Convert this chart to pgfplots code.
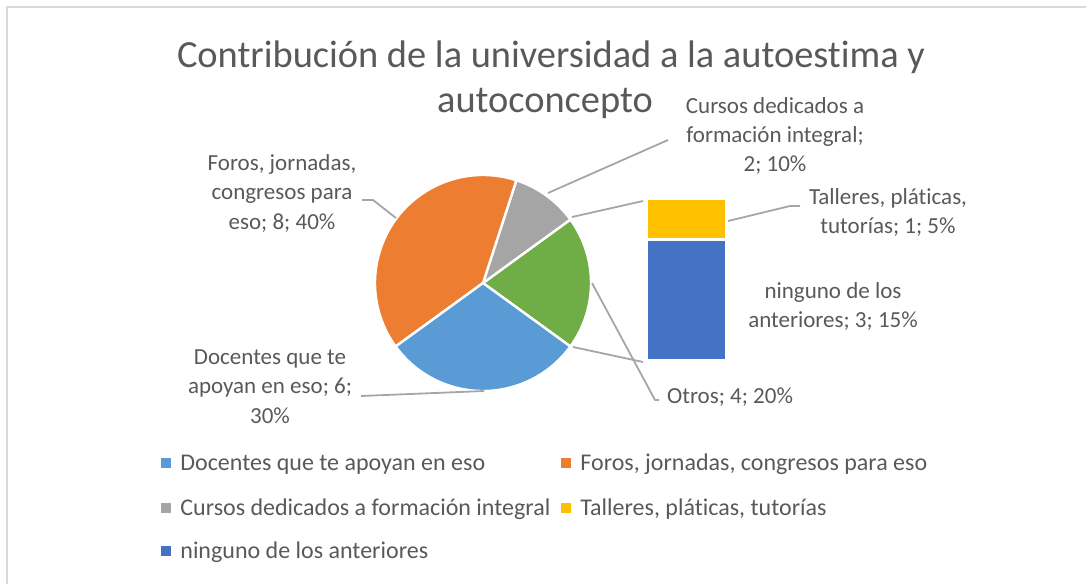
\documentclass[border=0pt]{standalone}
\usepackage{pgfplots}
\pgfplotsset{compat=1.18}
\usepackage{fontspec}
\setmainfont{Carlito}[Ligatures=NoCommon]
\definecolor{cDoc}{HTML}{5B9BD5}
\definecolor{cForos}{HTML}{ED7D31}
\definecolor{cCursos}{HTML}{A5A5A5}
\definecolor{cTalleres}{HTML}{FFC000}
\definecolor{cNinguno}{HTML}{4472C4}
\definecolor{cOtros}{HTML}{70AD47}
\definecolor{txt}{HTML}{595959}
\definecolor{leader}{HTML}{A6A6A6}
\definecolor{frame}{HTML}{D9D9D9}

% one pixel of the reference = 0.5pt
\newcommand{\lbl}[3]{\node[anchor=base, inner sep=0pt, text=txt, font=\fontsize{11.5}{14}\selectfont] at (axis cs:#1,#2) {#3};}
\newcommand{\leg}[4]{%
  \fill[#3] (axis cs:#1-19,#2-12) rectangle (axis cs:#1-9.5,#2-2.5);
  \node[anchor=base west, inner sep=0pt, text=txt, font=\fontsize{12}{14}\selectfont] at (axis cs:#1,#2) {#4};}

\begin{document}
\begin{tikzpicture}
% values
\pgfmathsetmacro\vDoc{6}
\pgfmathsetmacro\vForos{8}
\pgfmathsetmacro\vCursos{2}
\pgfmathsetmacro\vTalleres{1}
\pgfmathsetmacro\vNinguno{3}
\pgfmathsetmacro\vOtros{\vTalleres+\vNinguno}
\pgfmathsetmacro\deg{360/(\vDoc+\vForos+\vCursos+\vOtros)}
\pgfmathsetmacro\aA{-\vOtros*\deg/2}
\pgfmathsetmacro\aB{\aA+\vOtros*\deg}
\pgfmathsetmacro\aC{\aB+\vCursos*\deg}
\pgfmathsetmacro\aD{\aC+\vForos*\deg}
\pgfmathsetmacro\aE{\aD+\vDoc*\deg}

\begin{axis}[
    at={(0pt,0pt)}, anchor=south west,
    width=543pt, height=292pt, scale only axis,
    xmin=0, xmax=1086, ymin=0, ymax=584, y dir=reverse,
    hide axis, clip=false
]
    \addplot[draw=none] coordinates {(0,0)};
    \draw[frame, line width=1pt] (axis cs:7,584) -- (axis cs:7,7) -- (axis cs:1086,7);

    % pie
    \filldraw[fill=cOtros, draw=white, line width=1.2pt] (axis cs:483,283) -- ++(\aA:54pt) arc[start angle=\aA, end angle=\aB, radius=54pt] -- cycle;
    \filldraw[fill=cCursos, draw=white, line width=1.2pt] (axis cs:483,283) -- ++(\aB:54pt) arc[start angle=\aB, end angle=\aC, radius=54pt] -- cycle;
    \filldraw[fill=cForos, draw=white, line width=1.2pt] (axis cs:483,283) -- ++(\aC:54pt) arc[start angle=\aC, end angle=\aD, radius=54pt] -- cycle;
    \filldraw[fill=cDoc, draw=white, line width=1.2pt] (axis cs:483,283) -- ++(\aD:54pt) arc[start angle=\aD, end angle=\aE, radius=54pt] -- cycle;

    % series lines to the bar
    \draw[leader, line width=0.9pt] (axis cs:572,217) -- (axis cs:643,201);
    \draw[leader, line width=0.9pt] (axis cs:573,347) -- (axis cs:643,362);

    % leader lines
    \draw[leader, line width=0.9pt] (axis cs:362,200) -- (axis cs:373,200) -- (axis cs:396,218);
    \draw[leader, line width=0.9pt] (axis cs:548,193) -- (axis cs:668,140);
    \draw[leader, line width=0.9pt] (axis cs:728,221) -- (axis cs:790,206) -- (axis cs:800,206);
    \draw[leader, line width=0.9pt] (axis cs:592,283) -- (axis cs:655,400) -- (axis cs:659,400);
    \draw[leader, line width=0.9pt] (axis cs:484,391) -- (axis cs:361,396);

    % title
    \node[anchor=base, inner sep=0pt, text=txt, font=\fontsize{19.2}{23}\selectfont] at (axis cs:551,67) {Contribución de la universidad a la autoestima y};
    \node[anchor=base, inner sep=0pt, text=txt, font=\fontsize{19.2}{23}\selectfont] at (axis cs:545,112) {autoconcepto};

    % data labels
    \lbl{282}{170}{Foros, jornadas,}
    \lbl{282}{199.5}{congresos para}
    \lbl{282}{229}{eso; 8; 40\%}
    \lbl{775}{113}{Cursos dedicados a}
    \lbl{775}{142}{formación integral;}
    \lbl{775}{171}{2; 10\%}
    \lbl{888}{204}{Talleres, pláticas,}
    \lbl{888}{233}{tutorías; 1; 5\%}
    \lbl{833}{298}{ninguno de los}
    \lbl{833}{327}{anteriores; 3; 15\%}
    \lbl{730}{403}{Otros; 4; 20\%}
    \lbl{270}{364}{Docentes que te}
    \lbl{270}{393}{apoyan en eso; 6;}
    \lbl{270}{423}{30\%}

    % legend
    \leg{180}{470}{cDoc}{Docentes que te apoyan en eso}
    \leg{580}{470}{cForos}{Foros, jornadas, congresos para eso}
    \leg{180}{515}{cCursos}{Cursos dedicados a formación integral}
    \leg{580}{515}{cTalleres}{Talleres, pláticas, tutorías}
    \leg{180}{558}{cNinguno}{ninguno de los anteriores}
\end{axis}

% bar of the "Otros" part
\begin{axis}[
    at={(323.25pt,111.5pt)}, anchor=south west,
    width=40pt, height=81pt, scale only axis,
    xmin=0, xmax=1, ymin=0, ymax=4,
    ybar stacked, bar width=40pt,
    hide axis, clip=false
]
    \addplot[fill=cNinguno, draw=white, line width=1.5pt] coordinates {(0.5,\vNinguno)};
    \addplot[fill=cTalleres, draw=white, line width=1.5pt] coordinates {(0.5,\vTalleres)};
\end{axis}

\pgfresetboundingbox
\useasboundingbox (0pt,0pt) rectangle (543pt,292pt);
\end{tikzpicture}
\end{document}
